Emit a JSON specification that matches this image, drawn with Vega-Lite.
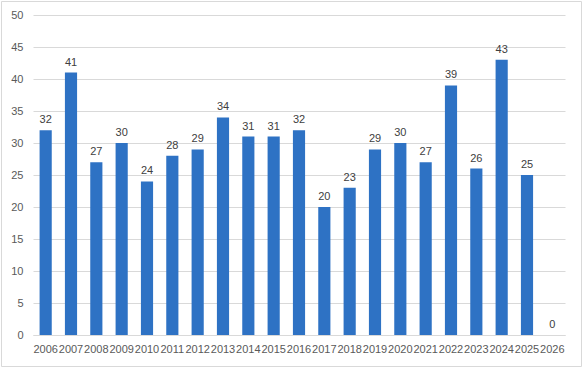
{
  "$schema": "https://vega.github.io/schema/vega-lite/v6.json",
  "width": 580,
  "height": 365,
  "autosize": {"type": "none"},
  "padding": {"left": 1, "top": 1, "right": 1, "bottom": 1},
  "background": "white",
  "config": {
    "view": {"stroke": "#d9d9d9", "strokeWidth": 1},
    "font": "Liberation Sans",
    "axis": {"labelFont": "Liberation Sans", "labelColor": "#595959", "labelFontSize": 11, "title": null}
  },
  "data": {
    "values": [
      {"year": "2006", "value": 32}, {"year": "2007", "value": 41}, {"year": "2008", "value": 27},
      {"year": "2009", "value": 30}, {"year": "2010", "value": 24}, {"year": "2011", "value": 28},
      {"year": "2012", "value": 29}, {"year": "2013", "value": 34}, {"year": "2014", "value": 31},
      {"year": "2015", "value": 31}, {"year": "2016", "value": 32}, {"year": "2017", "value": 20},
      {"year": "2018", "value": 23}, {"year": "2019", "value": 29}, {"year": "2020", "value": 30},
      {"year": "2021", "value": 27}, {"year": "2022", "value": 39}, {"year": "2023", "value": 26},
      {"year": "2024", "value": 43}, {"year": "2025", "value": 25}, {"year": "2026", "value": 0}
    ]
  },
  "encoding": {
    "x": {
      "field": "year", "type": "nominal", "sort": null,
      "scale": {"range": [32, 564], "paddingInner": 0.52, "paddingOuter": 0.26},
      "axis": {"labelAngle": 0, "offset": -31, "domainColor": "#d9d9d9", "ticks": false, "grid": false, "labelPadding": 8}
    },
    "y": {
      "field": "value", "type": "quantitative",
      "scale": {"domain": [0, 50], "range": [334, 14], "nice": false},
      "axis": {"values": [0,5,10,15,20,25,30,35,40,45,50], "offset": -32, "domain": false, "ticks": false, "gridColor": "#d9d9d9", "labelPadding": 10}
    }
  },
  "layer": [
    {"mark": {"type": "bar", "color": "#2E72C4"}},
    {"mark": {"type": "text", "baseline": "bottom", "dy": -5, "color": "#404040", "fontSize": 11}, "encoding": {"text": {"field": "value"}}}
  ]
}
